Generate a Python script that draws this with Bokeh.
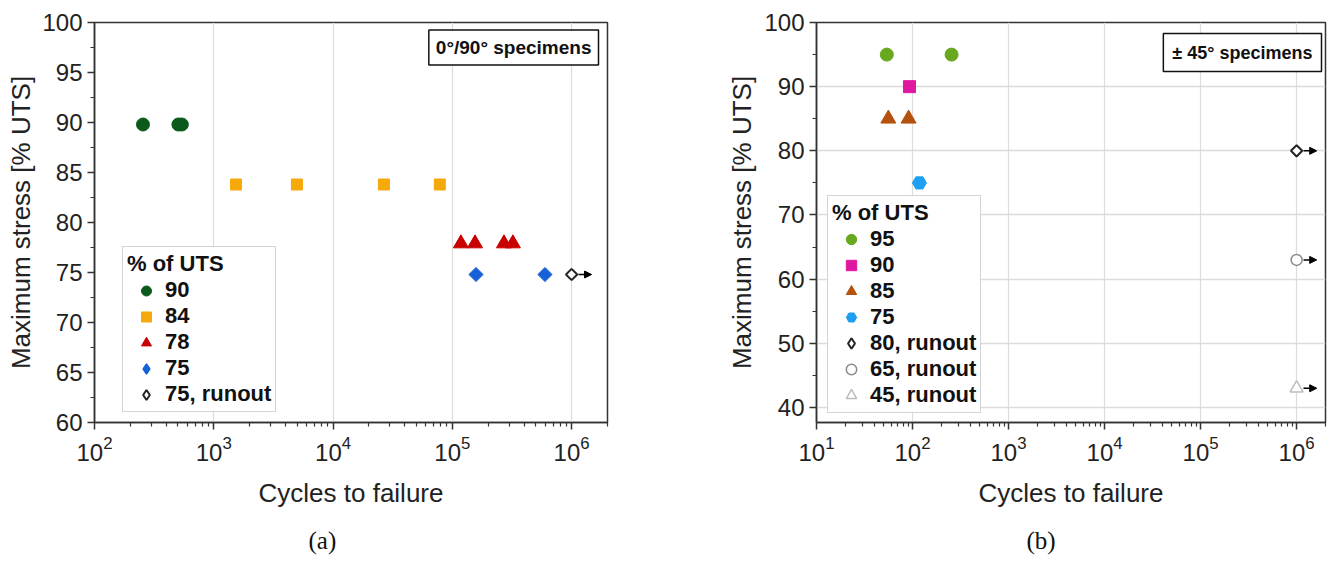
import numpy as np
from bokeh.plotting import figure
from bokeh.models import (Range1d, FixedTicker, SingleIntervalTicker, Legend, LegendItem,
                          Label, Arrow, NormalHead, ColumnDataSource, Title)
from bokeh.layouts import row
from bokeh.embed import file_html
from bokeh.resources import INLINE

# ---------------- data: panel (a) 0/90 specimens ----------------
a_lbl = ["90", "84", "78", "75", "75, runout"]
a90_x = [255, 505, 540]
a90_y = [89.8, 89.8, 89.8]
a84_x = [1535, 4980, 26700, 78500]
a84_y = [83.8, 83.8, 83.8, 83.8]
a78_x = [118000, 155000, 271000, 322000]
a78_y = [77.9, 77.9, 77.9, 77.9]
a75_x = [158000, 598000]
a75_y = [74.8, 74.8]
a75r_x = [1000000]
a75r_y = [74.8]
a_yticks = [60, 65, 70, 75, 80, 85, 90, 95, 100]
a_xticks = [1e2, 1e3, 1e4, 1e5, 1e6]

# ---------------- data: panel (b) +-45 specimens ----------------
b_lbl = ["95", "90", "85", "75", "80, runout", "65, runout", "45, runout"]
b95_x = [54, 255]
b95_y = [95, 95]
b90_x = [93]
b90_y = [90]
b85_x = [56, 91]
b85_y = [85, 85]
b75_x = [118]
b75_y = [75]
b80r_x = [1000000]
b80r_y = [80]
b65r_x = [1000000]
b65r_y = [63]
b45r_x = [1000000]
b45r_y = [43]
b_yticks = [40, 50, 60, 70, 80, 90, 100]
b_xticks = [1e1, 1e2, 1e3, 1e4, 1e5, 1e6]

FONT = "Liberation Sans"
NAN = [float("nan")]


def minor_log(lo, hi):
    out = []
    for e in range(lo, hi + 1):
        for k in range(2, 10):
            out.append(k * 10 ** e)
    return out


def base_fig(x_lo, y_rng, xticks, ml, fw, mr, ylabel_standoff):
    p = figure(x_axis_type="log", x_range=Range1d(x_lo, 2e6), y_range=Range1d(*y_rng),
               frame_width=fw, frame_height=400,
               min_border_left=ml, min_border_right=mr, min_border_top=22, min_border_bottom=138,
               output_backend="svg", toolbar_location=None)
    p.background_fill_color = "white"
    p.border_fill_color = "white"
    p.outline_line_color = "#333333"
    p.outline_line_width = 1.5
    e_lo = int(round(np.log10(x_lo)))
    p.xaxis.ticker = FixedTicker(ticks=xticks, minor_ticks=minor_log(e_lo, 6))
    for ax in (p.xaxis[0], p.yaxis[0]):
        ax.axis_line_color = "#333333"
        ax.axis_line_width = 1.5
        ax.major_tick_line_color = "#333333"
        ax.minor_tick_line_color = "#333333"
        ax.major_tick_line_width = 1.5
        ax.minor_tick_line_width = 1.2
        ax.major_tick_in = 0
        ax.minor_tick_in = 0
        ax.major_tick_out = 7
        ax.minor_tick_out = 4
        ax.major_label_text_font = FONT
        ax.major_label_text_font_size = "24px"
        ax.major_label_text_color = "#222222"
        ax.axis_label_text_font = FONT
        ax.axis_label_text_font_size = "26px"
        ax.axis_label_text_font_style = "normal"
        ax.axis_label_text_color = "#222222"
    p.xaxis.axis_label = "Cycles to failure"
    p.yaxis.axis_label = "Maximum stress [% UTS]"
    p.xaxis.major_label_standoff = 6
    p.xaxis.axis_label_standoff = 14
    p.yaxis.major_label_standoff = 5
    p.yaxis.axis_label_standoff = ylabel_standoff
    p.xgrid.grid_line_color = "#dcdcdc"
    p.xgrid.grid_line_width = 1.2
    return p


def style_legend(lg, glyph_h, spacing):
    lg.title = "% of UTS"
    lg.title_text_font = FONT
    lg.title_text_font_style = "bold"
    lg.title_text_font_size = "22px"
    lg.title_text_color = "#111111"
    lg.title_standoff = 0
    lg.label_text_font = FONT
    lg.label_text_font_style = "bold"
    lg.label_text_font_size = "22px"
    lg.label_text_color = "#111111"
    lg.label_height = 20
    lg.glyph_height = glyph_h
    lg.glyph_width = 38
    lg.label_standoff = 0
    lg.spacing = spacing
    lg.padding = 4
    lg.margin = 0
    lg.border_line_color = "#aaaaaa"
    lg.border_line_width = 1
    lg.background_fill_color = "white"
    lg.background_fill_alpha = 1.0


def runout_arrows(p, xs, ys, f1, f2):
    src = ColumnDataSource(dict(xs=[x * f1 for x in xs], xe=[x * f2 for x in xs], y=ys))
    p.add_layout(Arrow(end=NormalHead(size=7, fill_color="black", line_color="black"),
                       source=src, x_start="xs", y_start="y", x_end="xe", y_end="y",
                       line_color="black", line_width=1.5))


def caption(p, text, offset):
    p.add_layout(Title(text=text, align="left", offset=offset, standoff=28,
                       text_font="Liberation Serif", text_font_size="25px",
                       text_font_style="normal", text_color="#111111"), "below")


# ---------------- panel (a) ----------------
pa = base_fig(1e2, (60, 100), a_xticks, 94, 513, 91, 3)
pa.yaxis.ticker = SingleIntervalTicker(interval=5, num_minor_ticks=2)
pa.ygrid.grid_line_color = None

ra1 = pa.scatter(a90_x, a90_y, marker="circle", size=13, fill_color="#0b5a1c", line_color="#0b5a1c")
ra2 = pa.scatter(a84_x, a84_y, marker="square", size=11, fill_color="#f5a90a", line_color="#f5a90a")
ra3 = pa.scatter(a78_x, a78_y, marker="triangle", size=15, fill_color="#c80000", line_color="#c80000")
ra4 = pa.scatter(a75_x, a75_y, marker="square", angle=np.pi / 4, size=10, fill_color="#1761d6", line_color="#1761d6")
ra5 = pa.scatter(a75r_x, a75r_y, marker="square", angle=np.pi / 4, size=8, fill_color="white", line_color="#222222", line_width=2)
runout_arrows(pa, a75r_x, a75r_y, 1.14, 1.47)
# legend swatches for the diamond series (legend glyphs ignore marker angle)
la4 = pa.scatter(NAN, NAN, marker="diamond", size=14, fill_color="#1761d6", line_color="#1761d6", line_width=1.5)
la5 = pa.scatter(NAN, NAN, marker="diamond", size=13, fill_color="white", line_color="#222222", line_width=2)

lga = Legend(items=[LegendItem(label=l, renderers=[r]) for l, r in zip(a_lbl, [ra1, ra2, ra3, la4, la5])],
             location=(28, 10))
style_legend(lga, 25, 0)
pa.add_layout(lga)

pa.add_layout(Label(x=504, y=375, x_units="screen", y_units="screen", text="0°/90° specimens",
                    text_font=FONT, text_font_style="bold", text_font_size="19px", text_color="#111111",
                    text_align="right", text_baseline="middle",
                    border_line_color="#111111", border_line_width=1.5,
                    background_fill_color="white", padding=7))
caption(pa, "(a)", 214)

# ---------------- panel (b) ----------------
pb = base_fig(1e1, (37.66, 100), b_xticks, 118, 509, 4, 4)
pb.yaxis.ticker = SingleIntervalTicker(interval=10, num_minor_ticks=2)
pb.ygrid.ticker = FixedTicker(ticks=[40, 50, 60, 70, 80, 90])
pb.ygrid.grid_line_color = "#dcdcdc"
pb.ygrid.grid_line_width = 1.5

rb1 = pb.scatter(b95_x, b95_y, marker="circle", size=13, fill_color="#68a81f", line_color="#68a81f")
rb2 = pb.scatter(b90_x, b90_y, marker="square", size=12, fill_color="#e0189f", line_color="#e0189f")
rb3 = pb.scatter(b85_x, b85_y, marker="triangle", size=15, fill_color="#b4510c", line_color="#b4510c")
rb4 = pb.scatter(b75_x, b75_y, marker="hex", size=14, fill_color="#1e9ff2", line_color="#1e9ff2")
rb5 = pb.scatter(b80r_x, b80r_y, marker="square", angle=np.pi / 4, size=8, fill_color="white", line_color="#222222", line_width=2)
rb6 = pb.scatter(b65r_x, b65r_y, marker="circle", size=11, fill_color="white", line_color="#8a8a8a", line_width=1.5)
rb7 = pb.scatter(b45r_x, b45r_y, marker="triangle", size=13, fill_color="white", line_color="#bdbdbd", line_width=1.5)
runout_arrows(pb, b80r_x + b65r_x + b45r_x, b80r_y + b65r_y + b45r_y, 1.18, 1.62)
lb5 = pb.scatter(NAN, NAN, marker="diamond", size=13, fill_color="white", line_color="#222222", line_width=2)

lgb = Legend(items=[LegendItem(label=l, renderers=[r]) for l, r in zip(b_lbl, [rb1, rb2, rb3, rb4, lb5, rb6, rb7])],
             location=(11, 9))
style_legend(lgb, 26, 0)
pb.add_layout(lgb)

pb.add_layout(Label(x=505, y=370, x_units="screen", y_units="screen", text="± 45° specimens",
                    text_font=FONT, text_font_style="bold", text_font_size="18px", text_color="#111111",
                    text_align="right", text_baseline="middle",
                    border_line_color="#111111", border_line_width=1.5,
                    background_fill_color="white", padding=9))
caption(pb, "(b)", 210)

layout = row(pa, pb)
open("out.html", "w").write(file_html(layout, INLINE))
